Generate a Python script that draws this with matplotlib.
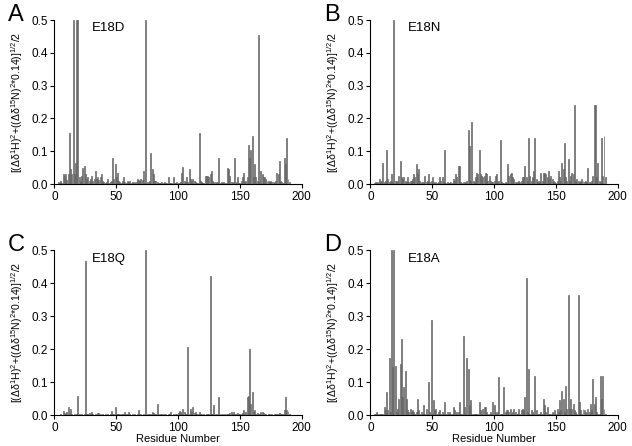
import matplotlib
matplotlib.use("Agg")
import matplotlib.pyplot as plt
import numpy as np

plt.rcParams["font.family"] = ["Liberation Sans", "DejaVu Sans"]
plt.rcParams["mathtext.default"] = "regular"

residues = np.arange(1, 191)

e18d = [
    0, 0, 0.005, 0.003, 0.008, 0.004, 0.03, 0.025, 0.03, 0.012,
    0.03, 0.155, 0.045, 0.03, 0.5, 0.03, 0.065, 0.5, 0.5, 0.02,
    0.01, 0.025, 0.05, 0.055, 0.03, 0.015, 0.02, 0.01, 0.015, 0.025,
    0.01, 0.015, 0.04, 0.015, 0.02, 0.012, 0.02, 0.03, 0.01, 0.005,
    0.003, 0.005, 0.015, 0.003, 0.005, 0.01, 0.08, 0.015, 0.06, 0.02,
    0.035, 0.01, 0.005, 0.003, 0.008, 0.02, 0.005, 0.003, 0.01, 0.005,
    0.008, 0.004, 0.005, 0.003, 0.006, 0.005, 0.015, 0.012, 0.01, 0.015,
    0.012, 0.04, 0.003, 0.5, 0.005, 0.003, 0.01, 0.095, 0.045, 0.03,
    0.01, 0.01, 0.005, 0.003, 0.004, 0.003, 0.005, 0.003, 0.005, 0.003,
    0.002, 0.02, 0.004, 0.003, 0.003, 0.02, 0.003, 0.003, 0.005, 0.004,
    0.003, 0.005, 0.035, 0.052, 0.01, 0.005, 0.02, 0.005, 0.045, 0.015,
    0.01, 0.015, 0.01, 0.005, 0.003, 0.003, 0.155, 0.01, 0.005, 0.003,
    0.003, 0.025, 0.025, 0.025, 0.02, 0.03, 0.04, 0.01, 0.005, 0.005,
    0.003, 0.005, 0.08, 0.003, 0.005, 0.003, 0.005, 0.002, 0.003, 0.048,
    0.045, 0.025, 0.005, 0.003, 0.005, 0.08, 0.005, 0.02, 0.003, 0.003,
    0.01, 0.02, 0.033, 0.005, 0.01, 0.02, 0.12, 0.08, 0.105, 0.145,
    0.02, 0.06, 0.02, 0.01, 0.455, 0.005, 0.04, 0.03, 0.02, 0.02,
    0.015, 0.01, 0.01, 0.005, 0.008, 0.005, 0.005, 0.003, 0.01, 0.035,
    0.03, 0.07, 0.01, 0.005, 0.003, 0.08, 0.06, 0.14, 0.015, 0.005,
]

e18n = [
    0, 0, 0.003, 0.005, 0.003, 0.005, 0.015, 0.005, 0.01, 0.065,
    0.005, 0.01, 0.105, 0.015, 0.005, 0.01, 0.03, 0.005, 0.5, 0.01,
    0.005, 0.01, 0.025, 0.07, 0.02, 0.015, 0.02, 0.01, 0.005, 0.02,
    0.005, 0.01, 0.01, 0.015, 0.03, 0.02, 0.06, 0.035, 0.045, 0.01,
    0.005, 0.003, 0.005, 0.025, 0.005, 0.01, 0.03, 0.005, 0.01, 0.02,
    0.005, 0.003, 0.005, 0.003, 0.005, 0.02, 0.01, 0.02, 0.005, 0.105,
    0.003, 0.005, 0.003, 0.002, 0.005, 0.003, 0.015, 0.01, 0.03, 0.02,
    0.055, 0.055, 0.005, 0.003, 0.005, 0.003, 0.005, 0.01, 0.165, 0.115,
    0.01, 0.19, 0.01, 0.005, 0.02, 0.035, 0.03, 0.105, 0.03, 0.025,
    0.02, 0.025, 0.035, 0.03, 0.01, 0.025, 0.01, 0.005, 0.005, 0.01,
    0.025, 0.03, 0.005, 0.01, 0.135, 0.005, 0.003, 0.002, 0.005, 0.003,
    0.06, 0.025, 0.03, 0.035, 0.02, 0.015, 0.005, 0.003, 0.005, 0.01,
    0.005, 0.01, 0.02, 0.02, 0.055, 0.02, 0.01, 0.14, 0.025, 0.01,
    0.02, 0.04, 0.14, 0.015, 0.005, 0.01, 0.005, 0.035, 0.01, 0.035,
    0.035, 0.03, 0.02, 0.04, 0.015, 0.025, 0.015, 0.01, 0.005, 0.003,
    0.01, 0.04, 0.02, 0.01, 0.065, 0.045, 0.125, 0.02, 0.01, 0.075,
    0.01, 0.025, 0.035, 0.03, 0.24, 0.01, 0.015, 0.01, 0.005, 0.01,
    0.015, 0.01, 0.005, 0.01, 0.005, 0.05, 0.005, 0.003, 0.01, 0.025,
    0.24, 0.24, 0.02, 0.065, 0.01, 0.005, 0.14, 0.025, 0.145, 0.02,
]

e18q = [
    0, 0, 0.002, 0.002, 0.003, 0.002, 0.013, 0.005, 0.008, 0.01,
    0.025, 0.005, 0.02, 0.003, 0.002, 0.003, 0.002, 0.003, 0.058, 0.003,
    0.002, 0.003, 0.002, 0.003, 0.467, 0.003, 0.005, 0.008, 0.005, 0.01,
    0.003, 0.002, 0.003, 0.002, 0.007, 0.006, 0.004, 0.002, 0.003, 0.002,
    0.003, 0.002, 0.004, 0.002, 0.003, 0.013, 0.003, 0.005, 0.025, 0.004,
    0.005, 0.003, 0.004, 0.003, 0.005, 0.003, 0.01, 0.005, 0.003, 0.01,
    0.003, 0.002, 0.004, 0.002, 0.003, 0.002, 0.004, 0.015, 0.005, 0.003,
    0.002, 0.003, 0.002, 0.5, 0.003, 0.002, 0.004, 0.003, 0.01, 0.008,
    0.005, 0.003, 0.033, 0.003, 0.002, 0.004, 0.003, 0.005, 0.002, 0.003,
    0.002, 0.005, 0.003, 0.01, 0.002, 0.003, 0.002, 0.003, 0.005, 0.008,
    0.012, 0.01, 0.005, 0.02, 0.01, 0.003, 0.005, 0.208, 0.005, 0.02,
    0.01, 0.025, 0.008, 0.01, 0.005, 0.003, 0.01, 0.005, 0.003, 0.002,
    0.003, 0.002, 0.004, 0.003, 0.005, 0.422, 0.003, 0.005, 0.03, 0.003,
    0.002, 0.003, 0.055, 0.003, 0.002, 0.004, 0.002, 0.003, 0.005, 0.003,
    0.005, 0.008, 0.01, 0.004, 0.01, 0.005, 0.003, 0.008, 0.005, 0.003,
    0.005, 0.008, 0.015, 0.005, 0.01, 0.055, 0.058, 0.2, 0.035, 0.07,
    0.01, 0.015, 0.005, 0.008, 0.005, 0.003, 0.01, 0.01, 0.008, 0.005,
    0.003, 0.002, 0.004, 0.003, 0.002, 0.003, 0.002, 0.003, 0.004, 0.005,
    0.005, 0.008, 0.003, 0.005, 0.003, 0.015, 0.055, 0.015, 0.012, 0.003,
]

e18a = [
    0, 0, 0.003, 0.005, 0.01, 0.005, 0.003, 0.005, 0.003, 0.005,
    0.025, 0.015, 0.07, 0.015, 0.175, 0.01, 0.5, 0.145, 0.5, 0.15,
    0.01, 0.02, 0.05, 0.155, 0.23, 0.055, 0.085, 0.135, 0.05, 0.015,
    0.01, 0.02, 0.01, 0.015, 0.01, 0.005, 0.01, 0.05, 0.015, 0.005,
    0.01, 0.005, 0.03, 0.005, 0.02, 0.005, 0.1, 0.01, 0.29, 0.005,
    0.045, 0.015, 0.02, 0.005, 0.01, 0.015, 0.005, 0.01, 0.005, 0.04,
    0.005, 0.01, 0.005, 0.01, 0.005, 0.003, 0.025, 0.015, 0.005, 0.01,
    0.01, 0.04, 0.005, 0.005, 0.24, 0.025, 0.005, 0.175, 0.14, 0.03,
    0.045, 0.005, 0.003, 0.005, 0.003, 0.005, 0.005, 0.04, 0.015, 0.005,
    0.02, 0.025, 0.025, 0.01, 0.005, 0.003, 0.01, 0.005, 0.04, 0.03,
    0.01, 0.005, 0.01, 0.115, 0.005, 0.003, 0.005, 0.085, 0.01, 0.015,
    0.015, 0.01, 0.02, 0.005, 0.01, 0.02, 0.01, 0.005, 0.003, 0.02,
    0.005, 0.015, 0.02, 0.015, 0.055, 0.415, 0.01, 0.14, 0.005, 0.015,
    0.01, 0.005, 0.12, 0.015, 0.005, 0.003, 0.005, 0.01, 0.005, 0.05,
    0.03, 0.01, 0.025, 0.005, 0.003, 0.005, 0.01, 0.003, 0.015, 0.005,
    0.02, 0.01, 0.045, 0.015, 0.075, 0.05, 0.01, 0.09, 0.02, 0.365,
    0.02, 0.05, 0.02, 0.035, 0.015, 0.01, 0.005, 0.365, 0.04, 0.015,
    0.005, 0.02, 0.015, 0.01, 0.005, 0.02, 0.01, 0.035, 0.015, 0.11,
    0.035, 0.055, 0.01, 0.005, 0.005, 0.12, 0.05, 0.12, 0.02, 0.005,
]

panels = [
    ("A", "E18D", e18d, [0.0862, 0.5874, 0.391, 0.3677], False),
    ("B", "E18N", e18n, [0.5862, 0.5874, 0.391, 0.3677], False),
    ("C", "E18Q", e18q, [0.0862, 0.0688, 0.391, 0.3700], True),
    ("D", "E18A", e18a, [0.5862, 0.0688, 0.391, 0.3700], True),
]

ylab = r"[($\Delta\delta^{1}$H)$^{2}$+(($\Delta\delta^{15}$N)$^{2}$*0.14)]$^{1/2}$/2"

fig = plt.figure(figsize=(6.32, 4.46), dpi=100)
for letter, name, vals, rect, show_xlabel in panels:
    ax = fig.add_axes(rect)
    ax.bar(residues, vals, width=0.8, color="#969696", edgecolor="#585858", linewidth=0.45)
    ax.set_xlim(0, 200)
    ax.set_ylim(0, 0.5)
    ax.set_xticks([0, 50, 100, 150, 200])
    ax.set_yticks([0, 0.1, 0.2, 0.3, 0.4, 0.5])
    ax.set_yticklabels(["0.0", "0.1", "0.2", "0.3", "0.4", "0.5"])
    ax.spines["top"].set_visible(False)
    ax.spines["right"].set_visible(False)
    ax.tick_params(direction="out", length=3, width=0.8, labelsize=8.5, pad=2)
    ax.set_ylabel(ylab, fontsize=7.6, labelpad=4)
    if show_xlabel:
        ax.set_xlabel("Residue Number", fontsize=8, labelpad=0)
    ax.text(0.15, 0.95, name, transform=ax.transAxes, fontsize=9.5, va="center", ha="left")
    fig.text(rect[0] - 0.074, rect[1] + rect[3] + 0.012, letter, fontsize=17, va="center", ha="left")

fig.savefig("out.png", dpi=100)
